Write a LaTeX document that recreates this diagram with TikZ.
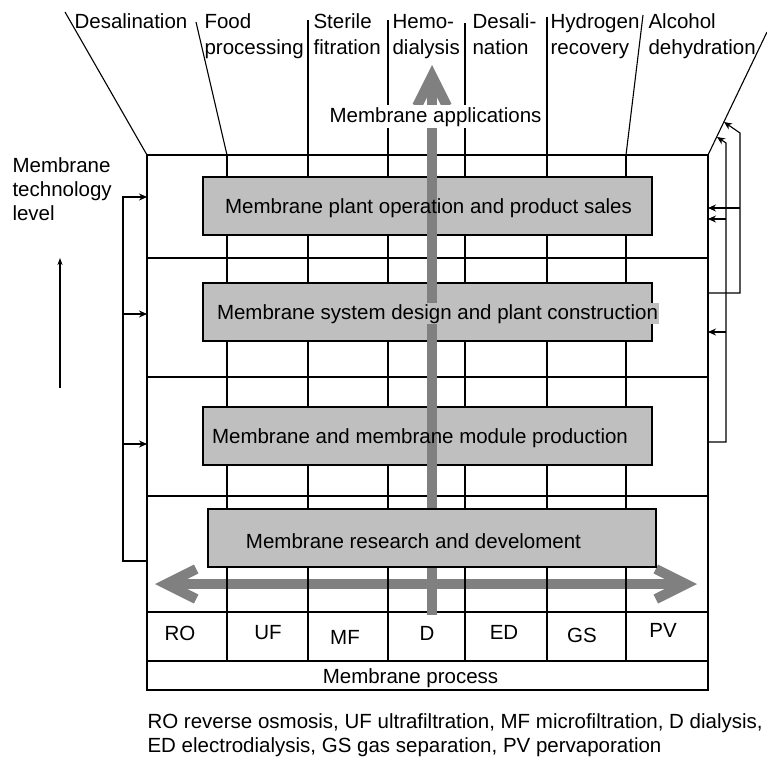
\documentclass[tikz,border=0pt]{standalone}
\usepackage{fontspec}
\setmainfont{Liberation Sans}
\usetikzlibrary{arrows.meta}

\begin{document}
\begin{tikzpicture}[x=1pt, y=-1pt, line width=1.1pt,
        font=\fontsize{20.5}{26}\selectfont,
        levelbox/.style={draw, fill={rgb:black,1;white,3}, minimum width=449pt, minimum height=58pt, inner sep=0pt},
        boxtext/.style={anchor=base, inner sep=0pt},
        toplabel/.style={anchor=base west, align=left, inner sep=0pt},
        bigarrow/.style={draw={rgb:black,1;white,1}, line width=10pt, >={Straight Barb[length=30pt, width=30pt]}},
        feedarrow/.style={-{Stealth[length=8pt, width=7pt]}}]
        \useasboundingbox (0,0) rectangle (767,757);
        % membrane process arrow, under the grid
        \coordinate (processL) at (155,584);
        \coordinate (processR) at (697,584);
        \draw[bigarrow, <->] (processL) -- (processR);
        % frame and rows from top to down
        \draw (147,155) rectangle (708,690);
        \foreach \y in {258,377,496,612,661}
            \draw (147,\y) -- (708,\y);
        % columns from left to right
        \foreach \x in {227,308,388,465,547,626}
            \draw (\x,155) -- (\x,661);
        
        % technology levels
        \node[levelbox] (sales) at (427.5,206) {};
        \node[levelbox] (design) at (427.5,312) {};
        \node[levelbox] (module) at (427.5,436) {};
        % applications arrow, over the upper levels
        \coordinate (appFoot) at (432,615);
        \coordinate (appTip) at (432,65);
        \draw[bigarrow, ->] (appFoot) -- (appTip);
        \node[levelbox, minimum width=448pt] (research) at (432,538) {};
        \node[boxtext] (salesText) at (428.5,213) {Membrane plant operation and product sales};
        \node[boxtext, fill={rgb:black,1;white,3}, inner sep=1pt] (designText) at (437.5,319) {Membrane system design and plant construction};
        \node[boxtext] (moduleText) at (420,443) {Membrane and membrane module production};
        \node[boxtext] (researchText) at (413.5,548) {Membrane research and develoment};
        
        % lines up to the applications, from left to right
        \draw (147,155) -- (65,12);
        \draw (227,155) -- (196,22);
        \draw (308,155) -- (308,20);
        \draw (388,155) -- (388,20);
        \draw (465,155) -- (465,23);
        \draw (547,155) -- (547,17);
        \draw (626,155) -- (643,15);
        \draw (708,155) -- (767,32);
        \node[toplabel] (desalination) at (74,29) {Desalination};
        \node[toplabel] (food) at (204,55) {Food\\processing};
        \node[toplabel] (sterile) at (313,55) {Sterile\\fitration};
        \node[toplabel] (hemo) at (392,55) {Hemo-\\dialysis};
        \node[toplabel] (desali) at (472,55) {Desali-\\nation};
        \node[toplabel] (hydrogen) at (550,55) {Hydrogen\\recovery};
        \node[toplabel] (alcohol) at (648,55) {Alcohol\\dehydration};
        \node[anchor=base west, fill=white, inner sep=2pt] (applications) at (327,122) {Membrane applications};
        
        % processes in the bottom row
        \node[boxtext] (ro) at (180,640) {RO};
        \node[boxtext] (uf) at (268,639) {UF};
        \node[boxtext] (mf) at (345,644) {MF};
        \node[boxtext] (d) at (427,640) {D};
        \node[boxtext] (ed) at (504,639) {ED};
        \node[boxtext] (gs) at (582,642) {GS};
        \node[boxtext] (pv) at (663,637) {PV};
        \node[boxtext] (process) at (410.5,683) {Membrane process};
        
        % technology level axis
        \node[toplabel, font=\fontsize{20.5}{24}\selectfont] (techLevel) at (12,220) {Membrane\\technology\\level};
        \coordinate (levelLow) at (60,388);
        \coordinate (levelHigh) at (60,258);
        \draw[-{Stealth[length=7pt, width=5pt]}] (levelLow) -- (levelHigh);
        
        % feeds on the left side
        \coordinate (researchLeft) at (147,561);
        \coordinate (salesLeft) at (147,197);
        \coordinate (designLeft) at (147,314);
        \coordinate (moduleLeft) at (147,444);
        \coordinate (spineLeft) at (123,561);
        \draw[feedarrow] (researchLeft) -- (spineLeft) |- (salesLeft);
        \draw[feedarrow] (spineLeft |- designLeft) -- (designLeft);
        \draw[feedarrow] (spineLeft |- moduleLeft) -- (moduleLeft);
        
        % feeds on the right side
        \coordinate (designRight) at (708,293);
        \coordinate (moduleRight) at (708,442);
        \coordinate (salesRightA) at (708,208);
        \coordinate (salesRightB) at (708,219);
        \coordinate (designRightB) at (708,332);
        \coordinate (appsA) at (724,122);
        \coordinate (appsB) at (717,137);
        \coordinate (spineA) at (740,293);
        \coordinate (spineB) at (726,442);
        \draw[feedarrow] (designRight) -- (spineA) -- ++(0,-160) -- (appsA);
        \draw[feedarrow] (spineA |- salesRightA) -- (salesRightA);
        \draw[feedarrow] (moduleRight) -- (spineB) -- ++(0,-299) -- (appsB);
        \draw[feedarrow] (spineB |- salesRightB) -- (salesRightB);
        \draw[feedarrow] (spineB |- designRightB) -- (designRightB);
        
        % abbreviations
        \node[toplabel, font=\fontsize{20.5}{24}\selectfont] (note) at (147,752) {RO reverse osmosis, UF ultrafiltration, MF microfiltration, D dialysis,\\ED electrodialysis, GS gas separation, PV pervaporation};
    \end{tikzpicture}
\end{document}
